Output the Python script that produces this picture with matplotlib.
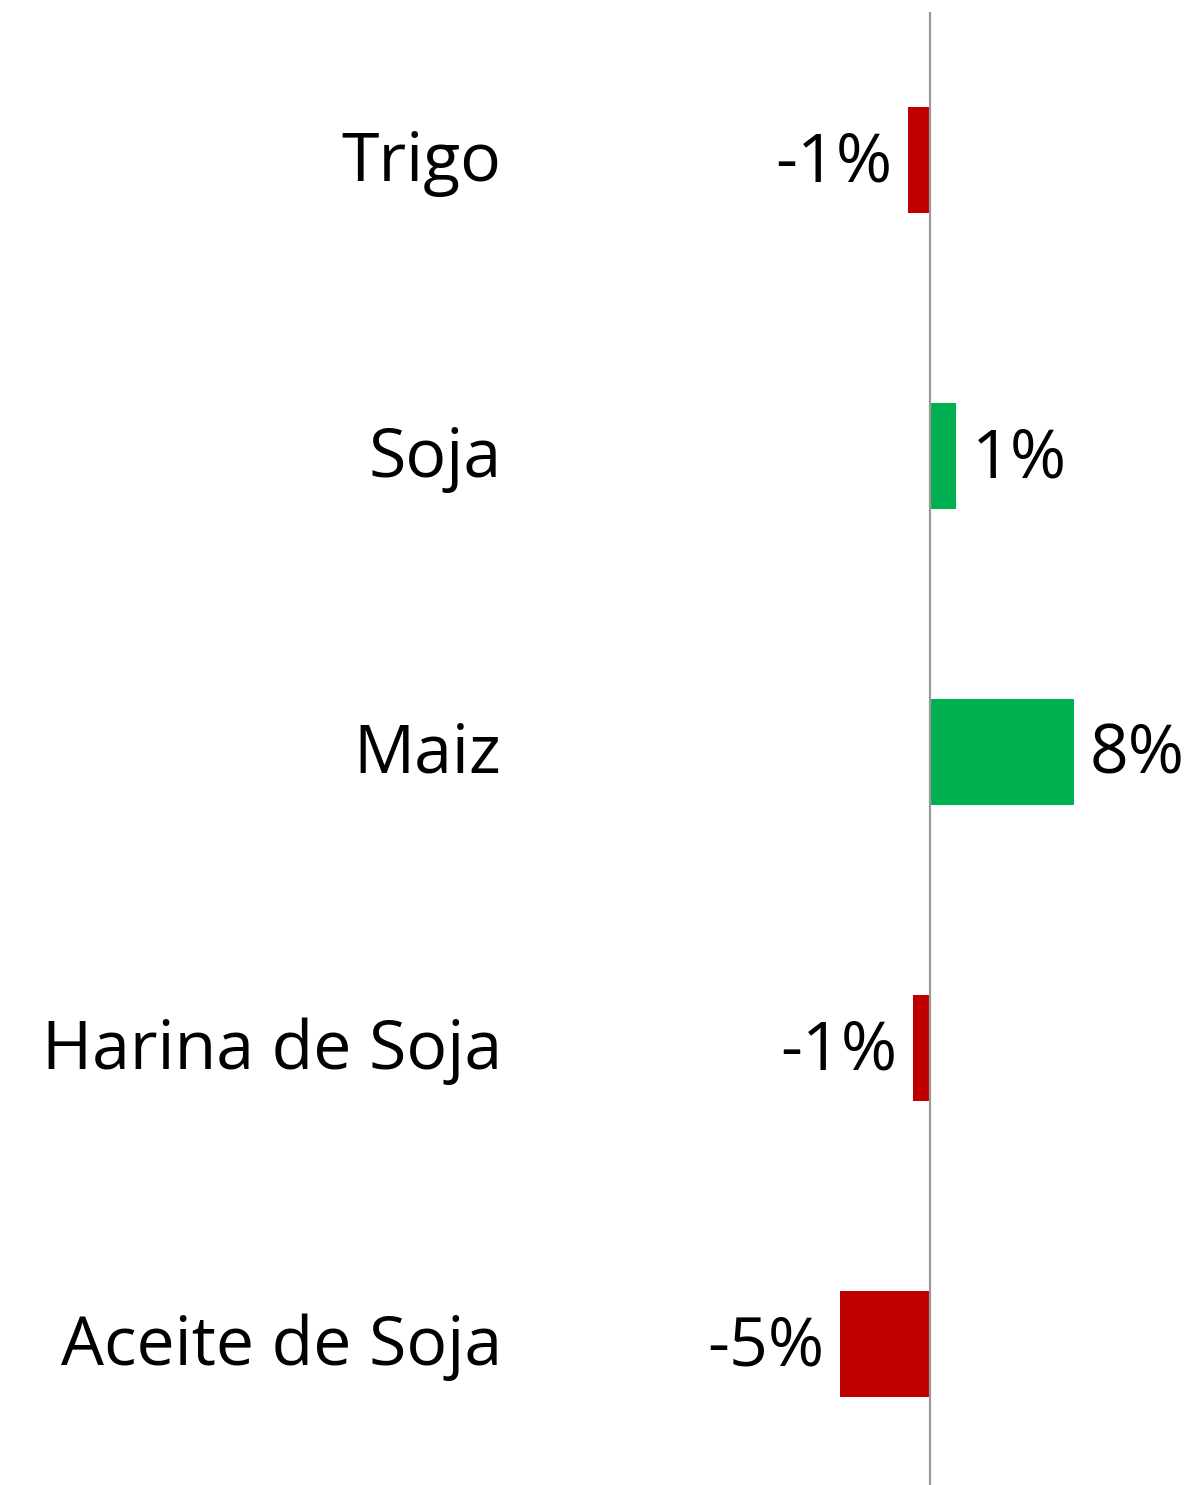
import matplotlib.pyplot as plt
from matplotlib.transforms import ScaledTranslation

# datos
productos = ["Trigo", "Soja", "Maiz", "Harina de Soja", "Aceite de Soja"]
variacion = [-1.2, 1.45, 8.0, -0.95, -5.0]
etiquetas = ["-1%", "1%", "8%", "-1%", "-5%"]

rojo = "#C00000"
verde = "#00B050"
colores = [verde if v > 0 else rojo for v in variacion]

plt.rcParams["font.family"] = ["Open Sans", "DejaVu Sans"]

W, H = 1196, 1485
fig = plt.figure(figsize=(W / 100, H / 100), dpi=100)
# eje: de x=510px a la derecha, de y=12px hasta abajo
ax = fig.add_axes([510 / W, 0, 1 - 510 / W, (H - 12) / H])

pos = list(range(len(productos)))
ax.barh(pos, variacion, height=0.355, color=colores)
ax.axvline(0, color="#9a9a9a", lw=1.6)

ax.set_xlim((510 - 930) / 18, (W - 930) / 18)
ax.set_ylim((H - 160) / 296, -0.5)

ax.set_yticks(pos)
ax.set_yticklabels(productos, fontsize=49)
ax.tick_params(axis="y", length=0, pad=6)
subir = ScaledTranslation(0, 5 / 100, fig.dpi_scale_trans)
for lbl in ax.get_yticklabels():
    lbl.set_transform(lbl.get_transform() + subir)
ax.set_xticks([])
for s in ax.spines.values():
    s.set_visible(False)

for p, v, t in zip(pos, variacion, etiquetas):
    if v >= 0:
        ax.annotate(t, (v, p), xytext=(16, -4), textcoords="offset pixels",
                    ha="left", va="center", fontsize=49)
    else:
        ax.annotate(t, (v, p), xytext=(-16, -4), textcoords="offset pixels",
                    ha="right", va="center", fontsize=49)

fig.savefig("out.png", dpi=100)
